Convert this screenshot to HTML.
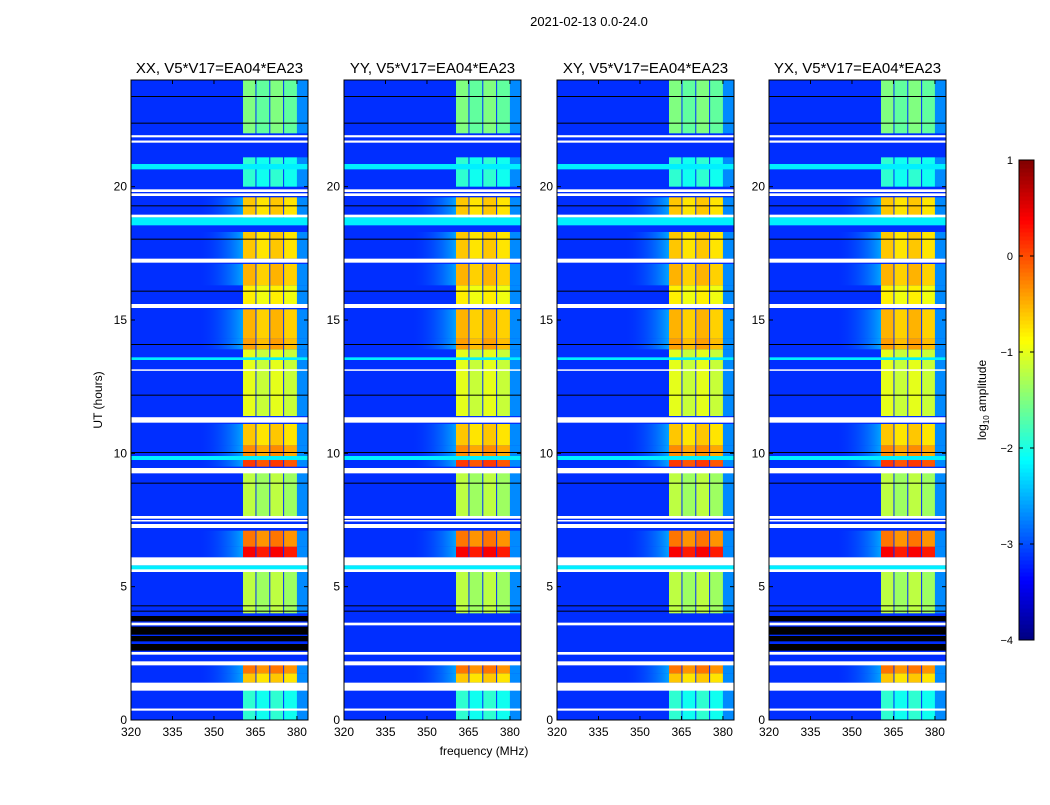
<!DOCTYPE html>
<html><head><meta charset="utf-8"><style>
body{margin:0;background:#fff;font-family:"Liberation Sans",sans-serif}
svg text{font-family:"Liberation Sans",sans-serif;fill:#000}
</style></head><body>
<svg id="fig" width="1050" height="800" xmlns="http://www.w3.org/2000/svg">
<defs><linearGradient id="wing" x1="0" y1="0" x2="1" y2="0"><stop offset="0" stop-color="#0040ff" stop-opacity="0"/><stop offset="1" stop-color="#00b0ff" stop-opacity="0.9"/></linearGradient></defs>
<text x="589" y="26" font-size="13" text-anchor="middle">2021-02-13 0.0-24.0</text>
<text x="484" y="755" font-size="12" text-anchor="middle">frequency (MHz)</text>
<text x="102" y="400" font-size="12" text-anchor="middle" transform="rotate(-90 102 400)">UT (hours)</text>
<g id="panels"></g>
<g id="cbar"></g>
<text x="986" y="400" font-size="12" text-anchor="middle" transform="rotate(-90 986 400)">log<tspan font-size="8" dy="3">10</tspan><tspan dy="-3"> amplitude</tspan></text>
</svg>
<script>
const panelTitles=["XX, V5*V17=EA04*EA23","YY, V5*V17=EA04*EA23","XY, V5*V17=EA04*EA23","YX, V5*V17=EA04*EA23"];
const xTicks=[320,335,350,365,380];
const yTicks=[0,5,10,15,20];
const cbTicks=[1,0,-1,-2,-3,-4];
const bandEdges=[360.5,365,370,375,380];
const bgLevel=-3.15;
// band segments: [startHour,endHour,log amplitude]
const segStart=[0,1.4,1.75,4,6.1,6.5,7.6,9.5,9.9,10.3,11.4,13.9,14.3,15.6,16.3,17.3,18.8,20,22];
const segEnd=[1.2,1.75,2.2,5.6,6.5,7.1,9.3,9.9,10.3,11.1,13.9,14.3,15.4,16.3,17.1,18.3,19.6,21.1,24];
const segLevel=[-1.9,-0.6,-0.2,-1.2,0.4,-0.2,-1.2,0.1,-0.3,-0.6,-1.0,-0.4,-0.5,-0.8,-0.5,-0.6,-0.6,-1.9,-1.5];
// full-width white (flagged) rows: [hour, thickness hours]
const whiteHour=[0.35,1.1,1.35,2.05,2.45,3.55,5.55,5.8,7.2,7.45,7.55,9.25,9.4,11.15,11.3,13.1,15.45,15.55,17.15,18.85,19.65,19.8,21.65,21.85];
const whiteSize=[0.08,0.25,0.05,0.15,0.1,0.1,0.1,0.3,0.15,0.05,0.1,0.15,0.05,0.2,0.05,0.05,0.1,0.05,0.15,0.1,0.1,0.1,0.08,0.08];
const blackHour=[4.1,4.3,8.9,10.05,12.2,14.1,16.1,18.05,19.3,22.4,23.4];
const cyanHour=[5.6,9.75,13.5,18.55,20.65];
const cyanSize=[0.2,0.15,0.1,0.3,0.2];
const blackBlockStart=[2.6,2.95,3.2,3.7]; const blackBlockEnd=[2.85,3.15,3.5,3.9]; // panels 1 & 4
function jet(v){let t=(v+4)/5;t=Math.max(0,Math.min(1,t));
 const c=x=>Math.max(0,Math.min(1,x));
 const r=c(1.5-Math.abs(4*t-3)),g=c(1.5-Math.abs(4*t-2)),b=c(1.5-Math.abs(4*t-1));
 return `rgb(${Math.round(r*255)},${Math.round(g*255)},${Math.round(b*255)})`;}
const NS="http://www.w3.org/2000/svg";
function mk(tag,attrs,parent){const e=document.createElementNS(NS,tag);for(const k in attrs)e.setAttribute(k,attrs[k]);parent.appendChild(e);return e;}
const lefts=[131,344,557,769],W=177,TOP=80,H=640;
const panelsG=document.getElementById('panels');
lefts.forEach((L,p)=>{
 const xs=f=>L+(f-320)/64*W, ys=h=>TOP+H-h/24*H;
 const g=mk('g',{},panelsG);
 
 
 mk('rect',{x:L,y:TOP,width:W,height:H,fill:jet(bgLevel)},g);
 segLevel.forEach((v,i)=>{
  const y1=ys(segEnd[i]),y0=ys(segStart[i]);
  if(v>-0.8){mk('rect',{x:xs(345),y:y1,width:xs(bandEdges[0])-xs(345),height:y0-y1,fill:'url(#wing)'},g);}
  mk('rect',{x:xs(380),y:y1,width:xs(384)-xs(380),height:y0-y1,fill:jet(-2.7)},g);
  for(let k=0;k<4;k++){
   const r=mk('rect',{x:xs(bandEdges[k])+(k?1:0),y:y1,width:xs(bandEdges[k+1])-xs(bandEdges[k])-(k?1:0),height:y0-y1,fill:jet(v-(k%2?0.15:0))},g);
   
   
  }
 });
 cyanHour.forEach((h,i)=>{mk('rect',{x:L,y:ys(h+cyanSize[i]),width:W,height:cyanSize[i]/24*H,fill:jet(-2.2)},g);});
 blackHour.forEach(h=>{mk('rect',{x:L,y:ys(h),width:W,height:1,fill:'#000'},g);});
 if(p==0||p==3){blackBlockStart.forEach((s,i)=>{mk('rect',{x:L,y:ys(blackBlockEnd[i]),width:W,height:(blackBlockEnd[i]-s)/24*H,fill:'#000'},g);});}
 whiteHour.forEach((h,i)=>{mk('rect',{x:L,y:ys(h+whiteSize[i]),width:W,height:Math.max(1.5,whiteSize[i]/24*H),fill:'#fff'},g);});
 mk('rect',{x:L,y:TOP,width:W,height:H,fill:'none',stroke:'#000','stroke-width':1},g);
 const t=mk('text',{x:L+W/2,y:73,'font-size':15,'text-anchor':'middle'},g);t.textContent=panelTitles[p];
 
 
 xTicks.forEach(f=>{const x=xs(f);mk('line',{x1:x,x2:x,y1:TOP+H,y2:TOP+H-4,stroke:'#000'},g);mk('line',{x1:x,x2:x,y1:TOP,y2:TOP+4,stroke:'#000'},g);
  const tx=mk('text',{x:x,y:TOP+H+16,'font-size':12,'text-anchor':'middle'},g);tx.textContent=f;
  
  });
 yTicks.forEach(h=>{const y=ys(h);mk('line',{x1:L,x2:L+4,y1:y,y2:y,stroke:'#000'},g);mk('line',{x1:L+W,x2:L+W-4,y1:y,y2:y,stroke:'#000'},g);
  const ty=mk('text',{x:L-4,y:y+4,'font-size':12,'text-anchor':'end'},g);ty.textContent=h;
  
  });
});
const cb=document.getElementById('cbar');
const cx=1019,cw=15,ct=160,chh=480;
for(let i=0;i<120;i++){const v=-4+5*i/120;mk('rect',{x:cx,y:ct+chh-(i+1)*chh/120,width:cw,height:chh/120+0.5,fill:jet(v+0.02)},cb);}
mk('rect',{x:cx,y:ct,width:cw,height:chh,fill:'none',stroke:'#000'},cb);
cbTicks.forEach(v=>{const y=ct+(1-v)/5*chh;mk('line',{x1:cx,x2:cx+4,y1:y,y2:y,stroke:'#000'},cb);mk('line',{x1:cx+cw-4,x2:cx+cw,y1:y,y2:y,stroke:'#000'},cb);
 const t=mk('text',{x:1013,y:y+4,'font-size':11,'text-anchor':'end'},cb);t.textContent=v<0?'\u2212'+(-v):v;
 
 });
</script>
</body></html>
